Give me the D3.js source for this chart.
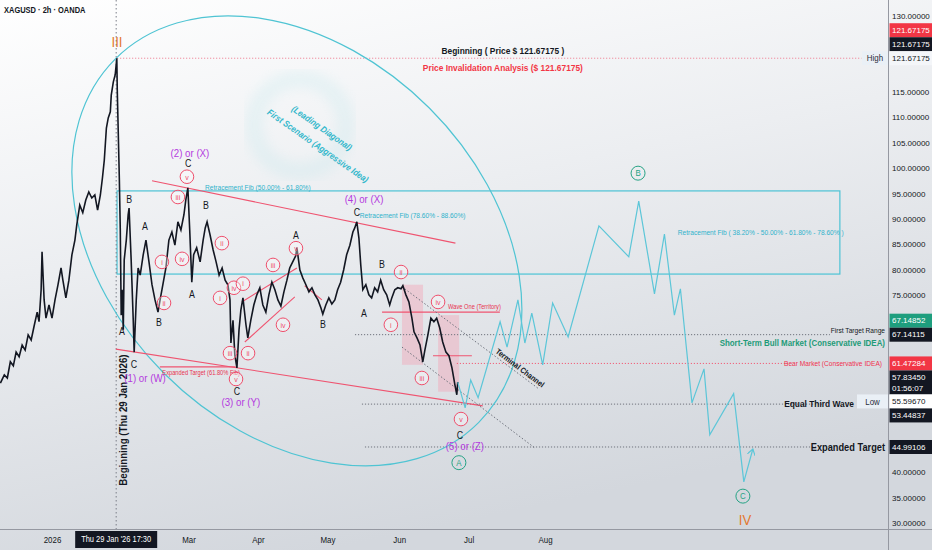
<!DOCTYPE html>
<html><head><meta charset="utf-8">
<script src="https://cdn.jsdelivr.net/npm/d3@7"></script>
<style>
html,body{margin:0;padding:0;background:#fff;}
svg{display:block;font-family:"Liberation Sans",Arial,sans-serif;}
</style></head><body>
<svg id="c" width="932" height="550"></svg>
<script>
// ---------------- DATA (days counted from 2026-01-01, prices in USD) ----------------
const histDay = [-21.3,-19.6,-18.3,-17.0,-15.7,-14.5,-13.2,-11.9,-10.6,-9.3,
 -8.0,-6.7,-5.4,-4.6,-3.7,-3.3,-2.4,-1.6,-0.3,1.0,
 2.3,3.6,4.9,5.7,7.0,8.3,9.6,10.9,11.7,13.0,
 14.3,15.6,16.9,18.2,19.5,20.7,21.9,22.8,23.6,24.5,
 25.3,26.2,26.6,27.5,28.3,29.0,29.2,29.6,30.1,30.5,
 30.9,31.3,31.8,32.2,33.1,33.9,34.3,35.2,36.1,36.5,
 37.4,38.2,39.1,40.4,41.6,42.9,44.2,45.5,46.8,47.7,
 48.9,50.2,51.5,52.8,54.1,55.4,56.7,58.0,58.8,59.7,
 60.5,61.4,62.2,63.5,65.0,66.3,67.2,68.0,69.3,70.6,
 71.9,73.2,74.5,75.8,77.0,77.9,78.3,79.2,80.0,80.9,
 81.8,82.6,83.5,84.8,85.6,86.9,88.2,89.5,90.8,92.1,
 93.4,94.7,96.0,97.3,98.6,99.9,101.2,102.5,103.7,105.0,
 106.3,106.8,108.1,109.4,110.7,112.0,113.3,114.6,115.9,117.2,
 118.0,119.3,120.6,121.9,123.2,124.4,125.7,127.0,128.3,129.7,
 131.0,131.8,132.7,133.6,134.4,135.3,136.6,137.9,139.1,140.4,
 141.7,143.0,144.3,145.6,146.9,147.8,149.1,150.4,151.8,152.6,
 153.9,155.2,156.5,157.4,158.7,160.0,161.2,162.1,163.4,164.7,
 166.0,167.2,168.5,169.8,171.2,172.5,173.8,175.1,175.9,176.3];
const histPrice = [57.6,59.2,58.6,61.8,61.0,63.7,62.8,65.1,64.1,67.1,
 66.1,68.9,71.6,69.7,76.0,83.5,74.0,70.4,73.0,70.4,
 74.0,77.0,80.3,77.9,74.4,77.9,82.9,85.8,88.8,92.7,
 91.2,93.7,95.3,94.1,94.7,91.7,94.7,98.1,101.6,107.9,
 109.9,111.1,114.4,117.0,118.4,121.67,115.4,107.5,97.7,87.8,
 71.0,76.0,68.1,81.9,85.8,90.8,92.1,81.9,70.0,63.7,
 74.0,80.3,78.9,82.9,85.8,81.5,77.0,74.0,71.6,74.0,
 77.0,80.3,85.8,87.4,84.8,89.4,87.8,90.8,93.7,96.1,
 87.8,77.5,82.9,84.3,81.5,85.8,88.2,89.4,86.8,83.9,
 81.5,78.9,80.3,77.9,77.0,74.0,65.5,70.0,63.1,60.6,
 68.1,72.0,74.4,69.1,66.5,70.0,73.0,75.0,76.4,73.0,
 71.6,75.0,77.5,76.0,74.0,72.8,75.6,77.9,80.3,81.5,
 82.7,84.3,79.9,78.3,77.0,75.6,76.4,75.0,74.0,72.4,
 71.2,73.0,74.4,73.2,74.0,76.0,77.5,79.9,82.9,84.8,
 87.4,88.2,89.4,86.2,80.9,76.0,77.0,75.0,74.4,76.4,
 75.6,77.9,76.0,75.0,73.0,74.4,76.0,76.4,76.2,76.8,
 75.0,73.6,70.4,67.7,66.5,65.1,61.8,64.1,67.1,70.4,
 69.7,70.4,68.5,65.7,63.7,63.0,60.6,57.2,55.3,57.8];
const projDay   = [176.3,179.5,181.9,185.1,194.6,197.6,202.3,205.3,208.3,213.0,217.3,224.0,237.3,250.2,254.5,261.3,265.6,269.9,272.5,277.5,282.7,285.2,295.5,299.9,303.8];
const projPrice = [57.8,52.7,58.2,54.7,69.7,64.7,74.0,65.5,71.4,61.2,73.4,66.7,88.6,82.5,93.5,75.2,87.0,71.0,76.2,53.7,60.4,47.4,55.5,38.1,44.6];

const priceTicks = [30,35,40,45,50,55,60,65,70,75,80,85,90,95,100,105,110,115,120,125,130];
const monthTickDates  = ["2026-01-02","2026-03-02","2026-04-01","2026-05-01","2026-06-01","2026-07-01","2026-08-03"];
const monthTickLabels = ["2026","Mar","Apr","May","Jun","Jul","Aug"];
const crosshairDay = 28.73;   // Thu 29 Jan 2026 17:30
const crosshairLabel = "Thu 29 Jan '26   17:30";

// horizontal levels
const levelPrice = [121.67175, 67.14852, 61.47284, 53.44837, 44.99106];
const levelFrom  = [29.1, 131.9, 175.9, 134.9, 136.2];
const levelTo    = [350.7, 337.1, 319.8, 333.6, 331.5];
const levelKind  = ["pink","gray","red","gray","gray"];

// right price-axis tags
const tagPrice = [121.67175,121.67175,121.67175,67.14852,67.14115,61.47284,57.83450,55.59670,53.44837,44.99106];
const tagText  = ["121.67175","121.67175","121.67175","67.14852","67.14115","61.47284","57.83450|01:56:07","55.59670","53.44837","44.99106"];
const tagKind  = ["red","black","plain","green","black","red","black","white","black","black"];

// Elliott-wave labels: [day, price, text]
const blackLabels = [[34.3,93.9,"B"],[31.2,67.7,"A"],[36.4,61.2,"C"],[41.2,88.4,"A"],[47.2,69.5,"B"],[59.8,101.0,"C"],
 [61.5,75.0,"A"],[67.5,92.7,"B"],[80.9,56.0,"C"],[106.4,86.8,"A"],[118.1,69.1,"B"],[132.8,91.3,"C"],[135.8,71.4,"A"],[143.6,80.9,"B"],[177.3,47.2,"C"]];
const purpleLabels = [[60.6,103.0,"(2) or (X)"],[41.2,58.6,"(1) or (W)"],[82.6,53.9,"(3) or (Y)"],[135.8,93.9,"(4) or (X)"],[179.4,45.2,"(5) or (Z)"]];
const redCircled = [[59.3,98.3,"v"],[55.4,94.3,"iii"],[74.4,85.2,"ii"],[57.2,82.1,"iv"],[48.5,81.5,"i"],[49.4,73.4,"ii"],[73.6,74.4,"i"],
 [79.6,76.4,"iv"],[83.5,77.2,"i"],[77.9,63.5,"iii"],[85.7,63.5,"ii"],[80.5,58.4,"v"],[96.5,80.9,"iii"],[100.8,69.1,"iv"],[106.4,84.2,"v"],
 [151.8,79.5,"ii"],[147.4,69.1,"i"],[167.8,73.6,"iv"],[160.8,58.6,"iii"],[177.7,50.5,"v"]];
const tealCircled = [[176.8,41.9,"A"],[254.2,99.0,"B"],[299.5,35.3,"C"]];
const romanLabels = [[29.1,124.9,"III"],[300.4,30.6,"IV"]];

// drawings
const ellipseEnds = [[28.3,121.5],[185.3,49.8]]; const ellipseRatio = 0.73;
const watermark = [108.1,108.5];
const fibBox = [29.1,95.5,341.4,79.1];
const pinkBoxes = [[152.2,77.0,161.3,61.2],[167.8,71.0,176.9,55.9]];
const redLines = [[44.2,97.5,175.3,85.2],[28.6,64.3,187.1,53.1],[83.0,73.6,106.8,80.3],[84.3,65.7,105.9,74.6],
 [110.2,76.8,117.6,74.0],[47.6,60.8,80.3,60.8],[143.6,71.6,194.5,71.6],[165.6,63.0,182.4,63.0]];
const channelLines = [[152.2,76.6,210.9,56.6],[152.2,64.7,209.6,44.8]];

const cyanTexts = [[67.1,96.1,"Retracement Fib (50.00% - 61.80%)"],[134.0,90.6,"Retracement Fib (78.60% - 88.60%)"],
 [271.4,87.4,"Retracement Fib ( 38.20% - 50.00% - 61.80% - 78.60% )"]];
const rotatedCyan = [[117.6,107.9,"(Leading Diagonal)"],[115.9,104.4,"First Scenario (Aggressive Idea)"]];
const redSmallTexts = [[65.4,59.6,"Expanded Target (61.80% Fib)","middle"],[172.1,72.6,"Wave One (Territory)","start"]];
const headTexts = [[195.8,123.1,"Beginning ( Price $ 121.67175 )","#131722"],[195.8,119.9,"Price Invalidation Analysis ($ 121.67175)","#f23645"]];
const verticalText = [31.7,50.3,"Beginning (Thu 29 Jan 2026)"];
const terminalText = [203.2,60.6,"Terminal Channel"];

// ---------------- CHART ----------------
const W=932,H=550,plotR=888,plotB=529;
const svg=d3.select("#c");
const t0=Date.UTC(2026,0,1);
const dayDate=d=>new Date(t0+d*864e5);
const x=d3.scaleUtc().domain([new Date("2026-01-02T00:00Z"),new Date("2026-08-03T00:00Z")]).range([52,545]);
const X=d=>x(dayDate(d));
const y=d3.scaleLinear().domain([30,130]).range([523,16]);

const defs=svg.append("defs");
const g1=defs.append("linearGradient").attr("id","bg").attr("x1",0).attr("y1",0).attr("x2",0.35).attr("y2",1);
g1.append("stop").attr("offset","0").attr("stop-color","#ffffff");
g1.append("stop").attr("offset","0.45").attr("stop-color","#eceef1");
g1.append("stop").attr("offset","1").attr("stop-color","#d3d7dd");
defs.append("clipPath").attr("id","clip").append("rect").attr("width",plotR).attr("height",plotB);
defs.append("marker").attr("id","arr").attr("viewBox","0 0 8 8").attr("refX",6).attr("refY",4)
 .attr("markerWidth",8).attr("markerHeight",8).attr("orient","auto").attr("markerUnits","userSpaceOnUse")
 .append("path").attr("d","M0,0L6,4L0,8").attr("fill","none").attr("stroke","#5cc6d8").attr("stroke-width",1.2);
defs.append("filter").attr("id","blur").append("feGaussianBlur").attr("stdDeviation",6);

svg.append("rect").attr("width",W).attr("height",H).attr("fill","url(#bg)");

const P=svg.append("g").attr("clip-path","url(#clip)");

// watermark
P.append("circle").attr("cx",X(watermark[0])).attr("cy",y(watermark[1])).attr("r",46)
 .attr("fill","none").attr("stroke","#9fdde4").attr("stroke-width",18).attr("opacity",0.16).attr("filter","url(#blur)");

// fib box
P.append("rect").attr("x",X(fibBox[0])).attr("y",y(fibBox[1])).attr("width",X(fibBox[2])-X(fibBox[0]))
 .attr("height",y(fibBox[3])-y(fibBox[1])).attr("fill","none").attr("stroke","#4cc3d5").attr("stroke-width",1.2);

// pink boxes
pinkBoxes.forEach(b=>P.append("rect").attr("x",X(b[0])).attr("y",y(b[1])).attr("width",X(b[2])-X(b[0]))
 .attr("height",y(b[3])-y(b[1])).attr("fill","#f2a7b7").attr("opacity",0.45));

// level lines
const lvlColor={pink:"#f08a9c",gray:"#6f737d",red:"#f0607a"};
levelPrice.forEach((p,i)=>P.append("line").attr("x1",X(levelFrom[i])).attr("x2",X(levelTo[i]))
 .attr("y1",y(p)).attr("y2",y(p)).attr("stroke",lvlColor[levelKind[i]]).attr("stroke-width",1).attr("stroke-dasharray","1.2,1.8"));

// crosshair
P.append("line").attr("x1",X(crosshairDay)).attr("x2",X(crosshairDay)).attr("y1",0).attr("y2",plotB)
 .attr("stroke","#7b7f89").attr("stroke-dasharray","1.5,2.5");

// ellipse
{
 const a=[X(ellipseEnds[0][0]),y(ellipseEnds[0][1])], b=[X(ellipseEnds[1][0]),y(ellipseEnds[1][1])];
 const cx=(a[0]+b[0])/2, cy=(a[1]+b[1])/2, rx=Math.hypot(b[0]-a[0],b[1]-a[1])/2;
 const ang=Math.atan2(b[1]-a[1],b[0]-a[0])*180/Math.PI;
 P.append("ellipse").attr("cx",cx).attr("cy",cy).attr("rx",rx).attr("ry",rx*ellipseRatio)
  .attr("transform",`rotate(${ang},${cx},${cy})`).attr("fill","none").attr("stroke","#4fc4d3").attr("stroke-width",1.2);
}

// red trend lines
redLines.forEach(l=>P.append("line").attr("x1",X(l[0])).attr("y1",y(l[1])).attr("x2",X(l[2])).attr("y2",y(l[3]))
 .attr("stroke","#ef5470").attr("stroke-width",1.1));
// terminal channel
channelLines.forEach(l=>P.append("line").attr("x1",X(l[0])).attr("y1",y(l[1])).attr("x2",X(l[2])).attr("y2",y(l[3]))
 .attr("stroke","#6f737d").attr("stroke-width",1).attr("stroke-dasharray","1.5,2"));

// price history
const line=d3.line().x(d=>X(d[0])).y(d=>y(d[1]));
P.append("path").datum(histDay.map((d,i)=>[d,histPrice[i]])).attr("d",line)
 .attr("fill","none").attr("stroke","#131722").attr("stroke-width",1.6).attr("stroke-linejoin","miter");
// projection
P.append("path").datum(projDay.map((d,i)=>[d,projPrice[i]])).attr("d",line)
 .attr("fill","none").attr("stroke","#5cc6d8").attr("stroke-width",1.2).attr("marker-end","url(#arr)");

// texts
const T=(sel,d,p,txt)=>sel.append("text").attr("x",X(d)).attr("y",y(p)).text(txt);
headTexts.forEach(h=>T(P,h[0],h[1],h[2]).attr("text-anchor","middle").attr("font-size",9.5).attr("font-weight","bold").attr("fill",h[3]).attr("dy","0.35em"));
cyanTexts.forEach(c=>T(P,c[0],c[1],c[2]).attr("font-size",7.5).attr("fill","#2fb2cb").attr("dy","0.35em"));
rotatedCyan.forEach(c=>P.append("text").attr("transform",`translate(${X(c[0])},${y(c[1])}) rotate(35)`)
 .attr("text-anchor","middle").attr("dy","0.35em").attr("font-size",9).attr("font-weight","bold").attr("font-style","italic").attr("fill","#35b8cc").text(c[2]));
redSmallTexts.forEach(c=>T(P,c[0],c[1],c[2]).attr("text-anchor",c[3]).attr("font-size",6.5).attr("fill","#e8314f").attr("dy","0.35em"));
P.append("text").attr("transform",`translate(${X(verticalText[0])},${y(verticalText[1])}) rotate(-90)`)
 .attr("text-anchor","middle").attr("dy","0.35em").attr("font-size",11).attr("font-weight","bold").attr("fill","#131722").text(verticalText[2]);
P.append("text").attr("transform",`translate(${X(terminalText[0])},${y(terminalText[1])}) rotate(37)`)
 .attr("text-anchor","middle").attr("dy","0.35em").attr("font-size",8).attr("font-weight","bold").attr("fill","#131722").text(terminalText[2]);

blackLabels.forEach(l=>T(P,l[0],l[1],l[2]).attr("text-anchor","middle").attr("dy","0.35em").attr("font-size",10).attr("fill","#131722"));
purpleLabels.forEach(l=>T(P,l[0],l[1],l[2]).attr("text-anchor","middle").attr("dy","0.35em").attr("font-size",11).attr("fill","#b43adf"));
redCircled.forEach(l=>{
 P.append("circle").attr("cx",X(l[0])).attr("cy",y(l[1])).attr("r",6.8).attr("fill","rgba(255,255,255,0.35)").attr("stroke","#ef4f6c").attr("stroke-width",1);
 T(P,l[0],l[1],l[2]).attr("text-anchor","middle").attr("dy","0.35em").attr("font-size",8).attr("fill","#ef4f6c");
});
tealCircled.forEach(l=>{
 P.append("circle").attr("cx",X(l[0])).attr("cy",y(l[1])).attr("r",7).attr("fill","none").attr("stroke","#26a385").attr("stroke-width",1);
 T(P,l[0],l[1],l[2]).attr("text-anchor","middle").attr("dy","0.35em").attr("font-size",9).attr("fill","#26a385");
});
romanLabels.forEach(l=>T(P,l[0],l[1],l[2]).attr("text-anchor","middle").attr("dy","0.35em").attr("font-size",15).attr("fill","#e3772f"));

// level labels at the right edge
const lab=(p,dy,txt,size,col,wt,xr)=>P.append("text").attr("x",xr).attr("y",y(p)).attr("dy",dy).attr("text-anchor","end")
 .attr("font-size",size).attr("fill",col).attr("font-weight",wt).text(txt);
lab(levelPrice[1],"-0.25em","First Target Range",7.5,"#131722","normal",plotR-3);
lab(levelPrice[1],"1.25em","Short-Term Bull Market (Conservative IDEA)",9,"#1e9b78","bold",plotR-3);
lab(levelPrice[2],"0.35em","Bear Market (Conservative IDEA)",7.5,"#f0304f","normal",plotR-6);
lab(levelPrice[3],"0.35em","Equal Third Wave",9.5,"#131722","bold",plotR-34);
lab(levelPrice[4],"0.35em","Expanded Target",10.5,"#131722","bold",plotR-3);

// header
svg.append("text").attr("x",4).attr("y",13).attr("font-size",8.5).attr("font-weight","bold").attr("fill","#131722").text("XAGUSD · 2h · OANDA");

// axes
svg.append("line").attr("x1",plotR+0.5).attr("x2",plotR+0.5).attr("y1",0).attr("y2",H).attr("stroke","#9598a1");
svg.append("line").attr("x1",0).attr("x2",W).attr("y1",plotB+0.5).attr("y2",plotB+0.5).attr("stroke","#9598a1");

// axis tags with simple stacking (computed first so covered ticks can be hidden, as TradingView does)
const tagCol={red:["#f23645","#fff"],black:["#131722","#fff"],plain:["none","#131722"],green:["#1e9e7e","#fff"],white:["#ffffff","#131722"]};
const tags=tagPrice.map((p,i)=>({p,i,txt:tagText[i].split("|"),k:tagKind[i],cy:y(p)}))
 .map(t=>Object.assign(t,{h:t.txt.length>1?24:14}));
tags.sort((a,b)=>a.cy-b.cy||a.i-b.i);
tags.forEach((t,j)=>{
 if(j===0)return;
 const prev=tags[j-1];
 if(Math.abs(prev.p-t.p)<0.05){
  let top=t.cy-t.h/2;
  for(let k=j-1;k>=0&&Math.abs(tags[k].p-t.p)<0.05;k--){tags[k].cy=top-tags[k].h/2;top=tags[k].cy-tags[k].h/2;}
 } else {
  const m=prev.cy+prev.h/2+t.h/2; if(t.cy<m)t.cy=m;
 }
});
const covered=v=>tags.some(t=>Math.abs(y(v)-t.cy)<t.h/2+5);

const ya=svg.append("g").attr("transform",`translate(${plotR},0)`)
 .call(d3.axisRight(y).tickValues(priceTicks.filter(v=>!covered(v))).tickFormat(d3.format(".5f")).tickSize(0).tickPadding(4));
ya.attr("font-family",null).attr("font-size",null);
ya.select(".domain").remove();
ya.selectAll("text").attr("font-size",8).attr("fill","#131722").attr("data-c",1);
const xa=svg.append("g").attr("transform",`translate(0,${plotB})`)
 .call(d3.axisBottom(x).tickValues(monthTickDates.map(s=>new Date(s+"T00:00Z"))).tickFormat((d,i)=>monthTickLabels[i]).tickSize(0).tickPadding(8));
xa.attr("font-family",null).attr("font-size",null);
xa.select(".domain").remove();
xa.selectAll("text").attr("font-size",9).attr("fill","#131722");

// crosshair date box
{
 const cx=X(crosshairDay);
 svg.append("rect").attr("x",cx-41).attr("y",plotB+2).attr("width",82).attr("height",17).attr("fill","#131722");
 svg.append("text").attr("x",cx).attr("y",plotB+10.5).attr("dy","0.35em").attr("text-anchor","middle").attr("font-size",8.5).attr("fill","#fff").text(crosshairLabel);
}

tags.forEach(t=>{
 const c=tagCol[t.k];
 svg.append("rect").attr("x",plotR+1.5).attr("y",t.cy-t.h/2).attr("width",W-plotR-1.5).attr("height",t.h).attr("fill",c[0]==="none"?"#f4f6f9":c[0]);
 t.txt.forEach((s,k)=>svg.append("text").attr("x",plotR+4).attr("y",t.cy-(t.txt.length-1)*5.5+k*11).attr("dy","0.35em")
  .attr("font-size",8).attr("fill",c[1]).attr("data-c",1).text(s));
});
// High / Low pane labels
const hiTag=tags.find(t=>t.k==="plain"), loTag=tags.find(t=>t.k==="white");
[[hiTag,"High",26],[loTag,"Low",31]].forEach(([t,s,w])=>{
 svg.append("rect").attr("x",plotR-w).attr("y",t.cy-7).attr("width",w).attr("height",14).attr("fill","#eaf0f6");
 svg.append("text").attr("x",plotR-w/2).attr("y",t.cy).attr("dy","0.35em").attr("text-anchor","middle").attr("font-size",9).attr("fill","#2a2e39").text(s);
});

// emulate TradingView's narrow UI face: condense texts horizontally
svg.selectAll("text").each(function(){
 const f=+this.getAttribute("data-c")||0.88;
 if(f>=1)return;
 const L=this.getComputedTextLength();
 if(L>0){this.setAttribute("textLength",(L*f).toFixed(2));this.setAttribute("lengthAdjust","spacingAndGlyphs");}
});
</script></body></html>
